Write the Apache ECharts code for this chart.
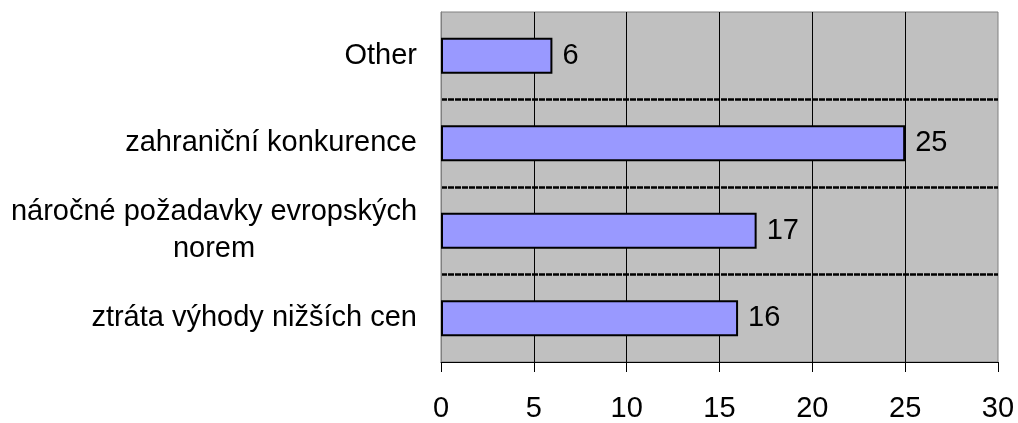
<!DOCTYPE html>
<html>
<head>
<meta charset="utf-8">
<script src="https://cdn.jsdelivr.net/npm/echarts@6/dist/echarts.min.js"></script>
<style>
  html, body { margin: 0; padding: 0; background: #ffffff; }
  #chart { width: 1018px; height: 423px; }
</style>
</head>
<body>
<div id="chart"></div>
<script>
// Categories listed top to bottom
const categories = [
  'Other',
  'zahraniční konkurence',
  'náročné požadavky evropských\nnorem',
  'ztráta výhody nižších cen'
];
const values = [6, 25, 17, 16];
const xTicks = [0, 5, 10, 15, 20, 25, 30];

const FONT = '"Liberation Sans", Arial, sans-serif';

const chart = echarts.init(document.getElementById('chart'), null, { renderer: 'canvas' });

chart.setOption({
  animation: false,
  backgroundColor: '#ffffff',
  grid: {
    left: 441,
    right: 20,
    top: 12,
    bottom: 58,
    show: true,
    backgroundColor: '#c0c0c0',
    borderColor: '#808080',
    borderWidth: 1
  },
  xAxis: {
    type: 'value',
    min: xTicks[0],
    max: xTicks[xTicks.length - 1],
    interval: 5,
    axisLine: { show: true, lineStyle: { color: '#000000', width: 1 } },
    axisTick: { show: true, length: 10, lineStyle: { color: '#000000', width: 1 } },
    axisLabel: {
      margin: 32,
      color: '#000000',
      fontFamily: FONT,
      fontSize: 29
    },
    splitLine: {
      show: true,
      showMinLine: false,
      showMaxLine: false,
      lineStyle: { color: '#000000', width: 1 }
    }
  },
  yAxis: {
    type: 'category',
    inverse: true,
    data: categories,
    axisLine: { show: true, lineStyle: { color: '#808080', width: 1 } },
    axisTick: { show: false },
    axisLabel: {
      margin: 24,
      color: '#000000',
      fontFamily: FONT,
      fontSize: 29,
      lineHeight: 37,
      formatter: function (v) {
        if (v.indexOf('\n') >= 0) {
          return v.split('\n').map(function (s) { return '{c|' + s + '}'; }).join('\n');
        }
        return v;
      },
      rich: {
        c: {
          width: 406,
          align: 'center',
          fontFamily: FONT,
          fontSize: 29,
          lineHeight: 37,
          color: '#000000'
        }
      }
    },
    splitLine: {
      show: true,
      showMinLine: false,
      showMaxLine: false,
      lineStyle: { color: '#000000', width: 2.5, type: [6, 1] }
    }
  },
  series: [{
    type: 'bar',
    data: values,
    barWidth: 36,
    itemStyle: {
      color: '#9999ff',
      borderColor: '#000000',
      borderWidth: 2
    },
    label: {
      show: true,
      position: 'right',
      distance: 10,
      color: '#000000',
      fontFamily: FONT,
      fontSize: 29
    }
  }]
});
</script>
</body>
</html>
